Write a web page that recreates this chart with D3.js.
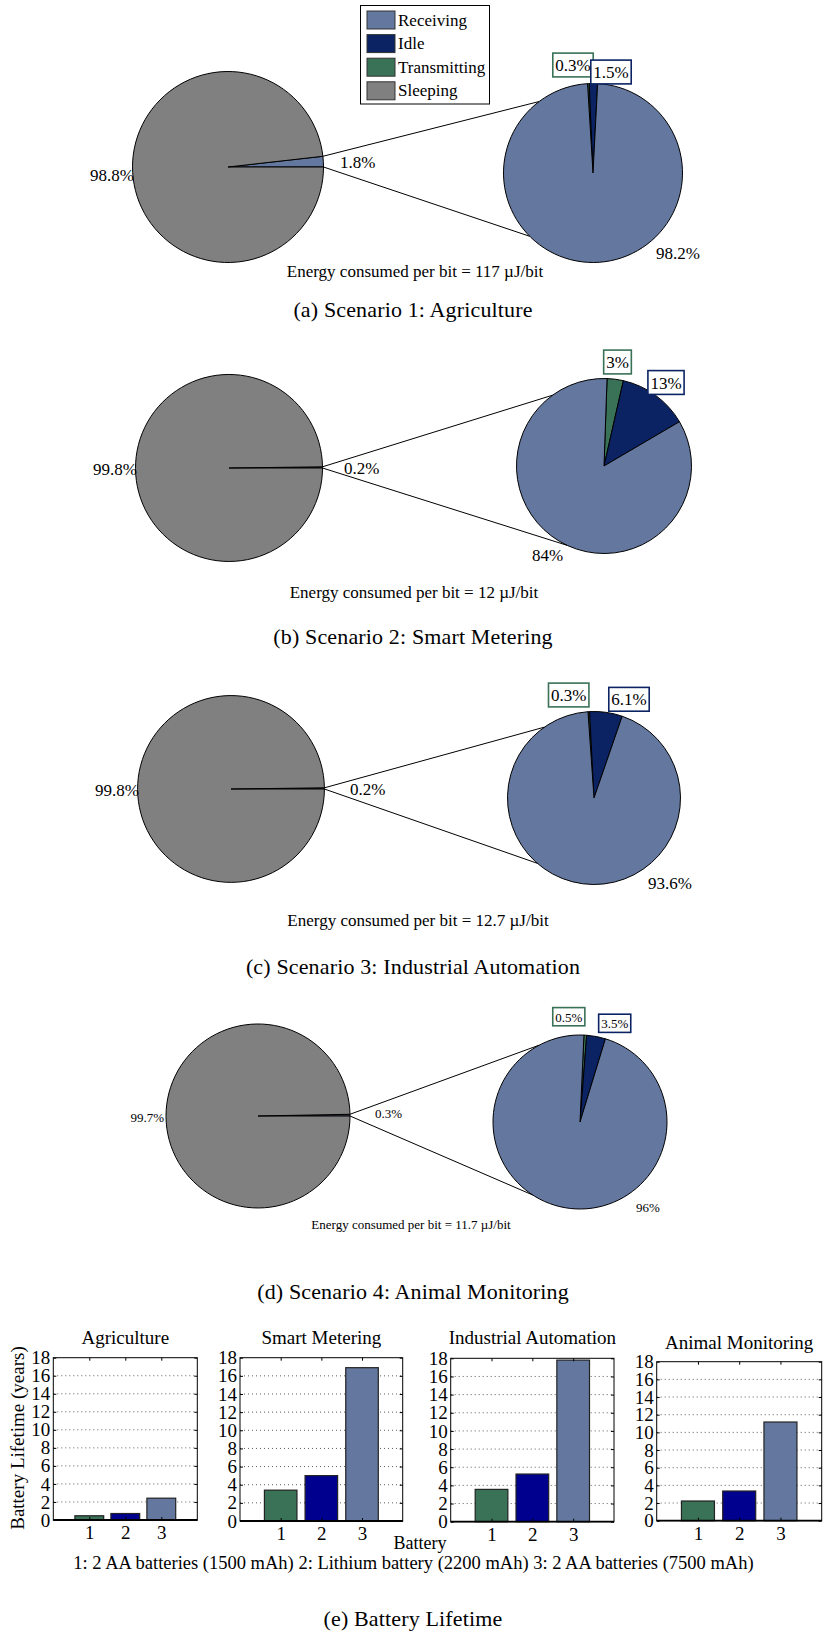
<!DOCTYPE html>
<html><head><meta charset="utf-8">
<script src="https://cdn.jsdelivr.net/npm/d3@7"></script>
<style>body{margin:0;background:#fff}svg{display:block}</style>
</head><body>
<svg id="chart" width="825" height="1637"></svg>
<script>
// ---------------- data ----------------
const states = ["Receiving", "Idle", "Transmitting", "Sleeping"];
const scenarios = ["Agriculture", "Smart Metering", "Industrial Automation", "Animal Monitoring"];
const captions = ["(a) Scenario 1: Agriculture", "(b) Scenario 2: Smart Metering",
                  "(c) Scenario 3: Industrial Automation", "(d) Scenario 4: Animal Monitoring"];
const awakePct = [1.8, 0.2, 0.2, 0.3];
const sleepingPct = [98.8, 99.8, 99.8, 99.7];
const receivingPct = [98.2, 84, 93.6, 96];
const idlePct = [1.5, 13, 6.1, 3.5];
const transmittingPct = [0.3, 3, 0.3, 0.5];
const energyPerBit = ["117", "12", "12.7", "11.7"];
const batteryIds = [1, 2, 3];
const lifetimeAgriculture = [0.47, 0.72, 2.42];
const lifetimeSmartMetering = [3.4, 5.0, 16.9];
const lifetimeIndustrial = [3.56, 5.25, 17.8];
const lifetimeAnimal = [2.23, 3.36, 11.17];
const lifetimeTicks = [0, 2, 4, 6, 8, 10, 12, 14, 16, 18];
const yLabel = "Battery Lifetime (years)";
const xLabel = "Battery";
const batteryNote = "1: 2 AA batteries (1500 mAh) 2: Lithium battery (2200 mAh) 3: 2 AA batteries (7500 mAh)";
const finalCaption = "(e) Battery Lifetime";

// ---------------- styles / layout ----------------
const colors = {Receiving: "#64789f", Idle: "#0b2363", Transmitting: "#3a7257", Sleeping: "#808080"};
const barColors = ["#3a7257", "#00008f", "#64789f"];
const figFont = "'Liberation Serif','Times New Roman',serif";
const capFont = "'Liberation Serif','Times New Roman',serif";

const panelLayout = [
  {lc: [228, 167], lr: 95.5, rc: [593, 173], rr: 89.5, rot: -3.5, up: -37, low: -135, fs: 17,
   sleepLbl: [-94, 8], awakeLbl: [112, -5], recvLbl: [63, 80], trBox: [573, 65], idBox: [611, 72],
   energy: [415, 271], capY: 309},
  {lc: [229, 468], lr: 93.5, rc: [604, 466], rr: 87.5, rot: 2, up: -36, low: -155, fs: 17,
   sleepLbl: [-92, 1], awakeLbl: [115, 0], recvLbl: [-72, 89], trBox: [617.5, 362], idBox: [666, 382.5],
   energy: [414, 592], capY: 636},
  {lc: [231, 789], lr: 93.4, rc: [594, 798], rr: 86.5, rot: -4, up: -35, low: -139, fs: 17,
   sleepLbl: [-92, 1], awakeLbl: [119, 0], recvLbl: [54, 85], trBox: [568.7, 695], idBox: [629, 699.3],
   energy: [418, 920], capY: 966},
  {lc: [258, 1116], lr: 92, rc: [580, 1122], rr: 87, rot: 2.6, up: -28, low: -147, fs: 13,
   sleepLbl: [-94, 1], awakeLbl: [117, -3], recvLbl: [56, 85], trBox: [568.8, 1016.7], idBox: [614.7, 1023.3],
   energy: [411, 1224], capY: 1291}
];

const barLayout = [
  {x0: 53.3, x1: 197.3, y0: 1357.7, y1: 1520, titleY: 1337},
  {x0: 240, x1: 402.7, y0: 1357.7, y1: 1521, titleY: 1337},
  {x0: 450.7, x1: 614, y0: 1358.3, y1: 1521.7, titleY: 1337},
  {x0: 656.7, x1: 821.7, y0: 1361.7, y1: 1520.7, titleY: 1342}
];

const svg = d3.select("#chart");
svg.append("rect").attr("width", 825).attr("height", 1637).attr("fill", "#fff");

const rad = d => d * Math.PI / 180;
const pt = (c, r, a) => [c[0] + r * Math.sin(a), c[1] - r * Math.cos(a)];
const pct = v => `${v}%`;

// ---------------- pie panels ----------------
panelLayout.forEach((L, i) => {
  const g = svg.append("g");
  const fs = L.fs;

  // left pie: awake vs sleeping
  const leftVals = [awakePct[i], sleepingPct[i]];
  const frac = awakePct[i] / d3.sum(leftVals);
  const a0 = Math.PI / 2 - frac * 2 * Math.PI;
  const leftPie = d3.pie().sort(null).startAngle(a0).endAngle(a0 + 2 * Math.PI)(leftVals);
  g.append("g").attr("transform", `translate(${L.lc})`)
    .selectAll("path").data(leftPie).join("path")
    .attr("d", d3.arc().innerRadius(0).outerRadius(L.lr))
    .attr("fill", (d, j) => j === 0 ? colors.Receiving : colors.Sleeping)
    .attr("stroke", "#000").attr("stroke-width", 1).attr("stroke-linejoin", "round");

  // right pie: transmitting, idle, receiving
  const rightVals = [transmittingPct[i], idlePct[i], receivingPct[i]];
  const rightCols = [colors.Transmitting, colors.Idle, colors.Receiving];
  const s0 = rad(L.rot);
  const rightPie = d3.pie().sort(null).startAngle(s0).endAngle(s0 + 2 * Math.PI)(rightVals);
  g.append("g").attr("transform", `translate(${L.rc})`)
    .selectAll("path").data(rightPie).join("path")
    .attr("d", d3.arc().innerRadius(0).outerRadius(L.rr))
    .attr("fill", (d, j) => rightCols[j])
    .attr("stroke", "#000").attr("stroke-width", 1).attr("stroke-linejoin", "round");

  // zoom lines
  const line = d3.line();
  g.append("path").attr("d", line([pt(L.lc, L.lr, a0), pt(L.rc, L.rr, rad(L.up))]))
    .attr("stroke", "#000").attr("stroke-width", 1).attr("fill", "none");
  g.append("path").attr("d", line([pt(L.lc, L.lr, Math.PI / 2), pt(L.rc, L.rr, rad(L.low))]))
    .attr("stroke", "#000").attr("stroke-width", 1).attr("fill", "none");

  const txt = (x, y, s, anchor) => g.append("text").attr("x", x).attr("y", y)
    .attr("text-anchor", anchor).attr("dominant-baseline", "central")
    .attr("font-family", figFont).attr("font-size", fs).attr("fill", "#000").text(s);

  txt(L.lc[0] + L.sleepLbl[0], L.lc[1] + L.sleepLbl[1], pct(sleepingPct[i]), "end");
  txt(L.lc[0] + L.awakeLbl[0], L.lc[1] + L.awakeLbl[1], pct(awakePct[i]), "start");
  txt(L.rc[0] + L.recvLbl[0], L.rc[1] + L.recvLbl[1], pct(receivingPct[i]), "start");

  // boxed labels
  [[L.trBox, transmittingPct[i], colors.Transmitting], [L.idBox, idlePct[i], colors.Idle]].forEach(([c, v, col]) => {
    const bg = g.append("g");
    const rect = bg.append("rect");
    const t = bg.append("text").attr("x", c[0]).attr("y", c[1] + 0.5).attr("text-anchor", "middle")
      .attr("dominant-baseline", "central").attr("font-family", figFont).attr("font-size", fs).text(pct(v));
    const w = t.node().getComputedTextLength() + 5;
    const h = fs * 1.4;
    rect.attr("x", c[0] - w / 2).attr("y", c[1] - h / 2).attr("width", w).attr("height", h)
      .attr("fill", "#fff").attr("stroke", col).attr("stroke-width", 1.6);
  });

  g.append("text").attr("x", L.energy[0]).attr("y", L.energy[1]).attr("text-anchor", "middle")
    .attr("dominant-baseline", "central").attr("font-family", figFont).attr("font-size", fs)
    .text(`Energy consumed per bit = ${energyPerBit[i]} \u00B5J/bit`);

  svg.append("text").attr("x", 413).attr("y", L.capY).attr("text-anchor", "middle")
    .attr("dominant-baseline", "central").attr("font-family", capFont).attr("font-size", 22)
    .attr("letter-spacing", 0.15).text(captions[i]);
});

// legend (panel a)
{
  const lg = svg.append("g");
  lg.append("rect").attr("x", 360.5).attr("y", 5.5).attr("width", 129).attr("height", 98.5)
    .attr("fill", "#fff").attr("stroke", "#000").attr("stroke-width", 1);
  states.forEach((s, j) => {
    const cy = 20 + j * 23.6;
    lg.append("rect").attr("x", 367).attr("y", cy - 9).attr("width", 28).attr("height", 18)
      .attr("fill", colors[s]).attr("stroke", "#333").attr("stroke-width", 1);
    lg.append("text").attr("x", 398).attr("y", cy).attr("dominant-baseline", "central")
      .attr("font-family", figFont).attr("font-size", 17).text(s);
  });
}

// ---------------- battery lifetime bars ----------------
const lifetimes = [lifetimeAgriculture, lifetimeSmartMetering, lifetimeIndustrial, lifetimeAnimal];
barLayout.forEach((B, k) => {
  const x = d3.scaleLinear().domain([0, 4]).range([B.x0, B.x1]);
  const y = d3.scaleLinear().domain([0, 18]).range([B.y1, B.y0]);
  const g = svg.append("g");

  g.selectAll("line.grid").data(lifetimeTicks.filter(t => t > 0 && t < 18)).join("line")
    .attr("x1", B.x0).attr("x2", B.x1).attr("y1", d => y(d)).attr("y2", d => y(d))
    .attr("stroke", "#333").attr("stroke-width", 0.8).attr("stroke-dasharray", "1,3");

  g.selectAll("rect.bar").data(lifetimes[k]).join("rect")
    .attr("x", (d, j) => x(batteryIds[j] - 0.4)).attr("width", x(0.8) - x(0))
    .attr("y", d => y(d)).attr("height", d => y(0) - y(d))
    .attr("fill", (d, j) => barColors[j]).attr("stroke", "#222").attr("stroke-width", 1.2);

  const styleAxis = a => {
    a.select(".domain").remove();
    a.selectAll("line").attr("stroke", "#000");
    a.selectAll("text").attr("font-family", figFont).attr("font-size", 19).attr("fill", "#000");
  };
  const noText = a => { a.select(".domain").remove(); a.selectAll("text").remove(); a.selectAll("line").attr("stroke", "#000"); };
  g.append("g").attr("transform", `translate(${B.x0},0)`)
    .call(d3.axisLeft(y).tickValues(lifetimeTicks).tickFormat(d3.format("d")).tickSize(-3).tickPadding(3)).call(styleAxis);
  g.append("g").attr("transform", `translate(${B.x1},0)`)
    .call(d3.axisRight(y).tickValues(lifetimeTicks).tickSize(-3)).call(noText);
  g.append("g").attr("transform", `translate(0,${B.y1})`)
    .call(d3.axisBottom(x).tickValues(batteryIds).tickFormat(d3.format("d")).tickSize(-3).tickPadding(6)).call(styleAxis);
  g.append("g").attr("transform", `translate(0,${B.y0})`)
    .call(d3.axisTop(x).tickValues(batteryIds).tickSize(-3)).call(noText);

  g.append("rect").attr("x", B.x0).attr("y", B.y0).attr("width", B.x1 - B.x0).attr("height", B.y1 - B.y0)
    .attr("fill", "none").attr("stroke", "#000").attr("stroke-width", 1);
  g.append("line").attr("x1", B.x0).attr("x2", B.x1).attr("y1", y(0)).attr("y2", y(0))
    .attr("stroke", "#000").attr("stroke-width", 1.8);

  g.append("text").attr("x", (B.x0 + B.x1) / 2).attr("y", B.titleY).attr("text-anchor", "middle")
    .attr("dominant-baseline", "central").attr("font-family", figFont).attr("font-size", 19).text(scenarios[k]);
});

svg.append("text").attr("transform", "translate(17.5,1438) rotate(-90)").attr("text-anchor", "middle")
  .attr("dominant-baseline", "central").attr("font-family", figFont).attr("font-size", 19).text(yLabel);
svg.append("text").attr("x", 420).attr("y", 1543).attr("text-anchor", "middle")
  .attr("dominant-baseline", "central").attr("font-family", figFont).attr("font-size", 18).text(xLabel);
svg.append("text").attr("x", 413.5).attr("y", 1563).attr("text-anchor", "middle")
  .attr("dominant-baseline", "central").attr("font-family", figFont).attr("font-size", 18.5).text(batteryNote);
svg.append("text").attr("x", 413).attr("y", 1618).attr("text-anchor", "middle")
  .attr("dominant-baseline", "central").attr("font-family", capFont).attr("font-size", 22)
  .attr("letter-spacing", 0.15).text(finalCaption);
</script>
</body></html>
